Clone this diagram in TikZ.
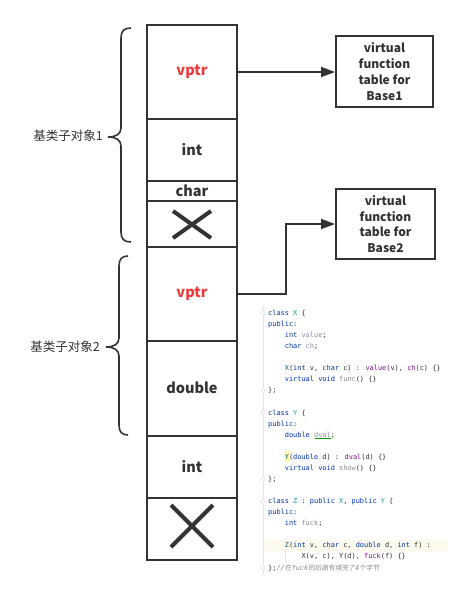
\documentclass[tikz,border=0pt]{standalone}
\usepackage{fontspec}
\setmainfont{Noto Sans CJK SC}
\newfontfamily\codefont{DejaVu Sans Mono}
\newfontfamily\cjkit[FakeSlant=0.15]{Noto Sans CJK SC}
\usetikzlibrary{arrows.meta,calc}
\definecolor{ink}{HTML}{333333}
\definecolor{vred}{HTML}{F03A3A}
\definecolor{kwc}{HTML}{0033B3}
\definecolor{clsc}{HTML}{1A9A9A}
\definecolor{fnc}{HTML}{00627A}
\definecolor{fldc}{HTML}{871094}
\definecolor{fldg}{HTML}{9A88A6}
\definecolor{gryc}{HTML}{8C8C8C}
\definecolor{cmtc}{HTML}{8C8C8C}
\definecolor{codetxt}{HTML}{303030}
\definecolor{gutter}{HTML}{E4E4E4}
\definecolor{hiline}{HTML}{FCFAED}
\newcommand\kw[1]{\textcolor{kwc}{#1}}
\newcommand\cls[1]{\textcolor{clsc}{#1}}
\newcommand\fnm[1]{\textcolor{fnc}{#1}}
\newcommand\fld[1]{\textcolor{fldc}{#1}}
\newcommand\fdg[1]{\textcolor{fldg}{#1}}
\newcommand\gry[1]{\textcolor{gryc}{#1}}
\newcommand\cdln[3]{\node[codetext] (cl#1) at ({268+#2*4.17},{313+(#1-1)*11.07+2.4}) {#3};}
\begin{document}
\begin{tikzpicture}[x=1pt,y=-1pt,
  cell/.style={draw=ink, line width=2pt, minimum width=90pt, inner sep=0pt, outer sep=0pt,
    anchor=north west, text=ink, font=\bfseries\fontsize{14.5}{16}\selectfont},
  vtab/.style={draw=ink, line width=2pt, inner sep=0pt, align=center, text=ink,
    font=\bfseries\fontsize{12}{15.8}\selectfont},
  conn/.style={draw=ink, line width=2pt, -{Triangle[length=14pt,width=10pt]}},
  xmark/.style={draw=ink, line width=4pt},
  brace/.style={draw=ink, line width=1.6pt},
  blabel/.style={anchor=east, text=ink, font=\fontsize{12.5}{14}\selectfont, inner sep=0pt},
  codetext/.style={anchor=base west, inner sep=0pt, text=codetxt, font=\codefont\fontsize{6.93}{8}\selectfont}]
\useasboundingbox (0,0) rectangle (471,598);
\fill[white] (0,0) rectangle (471,598);

% memory layout cells
\node[cell, minimum height=94pt] (v1) at (147,25) {\textcolor{vred}{vptr}};
\node[cell, minimum height=62pt] (i1) at (147,119) {int};
\node[cell, minimum height=20pt] (c1) at (147,181) {char};
\node[cell, minimum height=46pt] (x1) at (147,201) {};
\node[cell, minimum height=94pt] (v2) at (147,247) {\textcolor{vred}{vptr}};
\node[cell, minimum height=94.5pt] (d2) at (147,341) {double};
\node[cell, minimum height=62.5pt] (i2) at (147,435.5) {int};
\node[cell, minimum height=61.5pt] (x2) at (147,498) {};

\draw[xmark] ($(x1.north west)+(26,10)$) -- ($(x1.north west)+(64,37)$);
\draw[xmark] ($(x1.north west)+(64,10)$) -- ($(x1.north west)+(26,37)$);
\draw[xmark] ($(x2.north west)+(24,7)$) -- ($(x2.north west)+(66,49)$);
\draw[xmark] ($(x2.north west)+(66,7)$) -- ($(x2.north west)+(24,49)$);

% virtual tables
\node[vtab, minimum width=97pt, minimum height=71pt] (b1) at (384.5,71.5) {virtual\\function\\table for\\Base1};
\node[vtab, minimum width=99pt, minimum height=70pt] (b2) at (385.5,224) {virtual\\function\\table for\\Base2};

\draw[conn] (v1.east) -- (v1.east -| b1.west);
\draw[conn] (v2.east) -- ++(49,0) |- (b2.west);

% braces
\draw[brace] (131,28) .. controls (124,28) and (121,31) .. (121,38) -- (121,128)
  .. controls (121,134) and (116,137) .. (108,137)
  .. controls (116,137) and (121,140) .. (121,146) -- (121,232)
  .. controls (121,239) and (124,242) .. (131,242);
\draw[brace] (128,256) .. controls (122,256) and (119,259) .. (119,266) -- (119,338)
  .. controls (119,344) and (114,347) .. (106,347)
  .. controls (114,347) and (119,350) .. (119,356) -- (119,425)
  .. controls (119,432) and (122,435) .. (128,435);
\node[blabel] (lab1) at (103,136) {基类子对象1};
\node[blabel] (lab2) at (100,347) {基类子对象2};

% code listing
\fill[hiline] (263,540) rectangle (448,551);
\draw[gutter, line width=0.8pt] (263,306) -- (263,575);
\foreach \n in {1,8,10,16,18,24}
  \filldraw[draw=gutter, fill=white, line width=0.6pt] (263,{313+(\n-1)*11.07}) circle (2pt);
\fill[yellow!35] (284.7,451) rectangle (289,462);
\draw[gutter, line width=0.6pt] (285,550) -- (285,562);
\cdln{1}{0}{\kw{class} \cls{X} \{}
\cdln{2}{0}{\kw{public}:}
\cdln{3}{4}{\kw{int} \fdg{value};}
\cdln{4}{4}{\kw{char} \fdg{ch};}
\cdln{6}{4}{\fnm{X}(\kw{int} v, \kw{char} c) : \fld{value}(v), \fld{ch}(c) \{\}}
\cdln{7}{4}{\kw{virtual} \kw{void} \gry{func}() \{\}}
\cdln{8}{0}{\};}
\cdln{10}{0}{\kw{class} \cls{Y} \{}
\cdln{11}{0}{\kw{public}:}
\cdln{12}{4}{\kw{double} \fdg{dval};}
\cdln{14}{4}{\fnm{Y}(\kw{double} d) : \fld{dval}(d) \{\}}
\cdln{15}{4}{\kw{virtual} \kw{void} \gry{show}() \{\}}
\cdln{16}{0}{\};}
\cdln{18}{0}{\kw{class} \cls{Z} : \kw{public} \cls{X}, \kw{public} \cls{Y} \{}
\cdln{19}{0}{\kw{public}:}
\cdln{20}{4}{\kw{int} \gry{fuck};}
\cdln{22}{4}{\fnm{Z}(\kw{int} v, \kw{char} c, \kw{double} d, \kw{int} f) :}
\cdln{23}{8}{X(v, c), Y(d), \fld{fuck}(f) \{\}}
\cdln{24}{0}{\};\textcolor{cmtc}{\itshape //{\cjkit\fontsize{6.7}{8}\selectfont 在}fuck{\cjkit\fontsize{6.7}{8}\selectfont 的后面有填充了}4{\cjkit\fontsize{6.7}{8}\selectfont 个字节}}}
\draw[green!60!black, line width=0.4pt] (314.5,437.8) -- (331,437.8);
\end{tikzpicture}
\end{document}
